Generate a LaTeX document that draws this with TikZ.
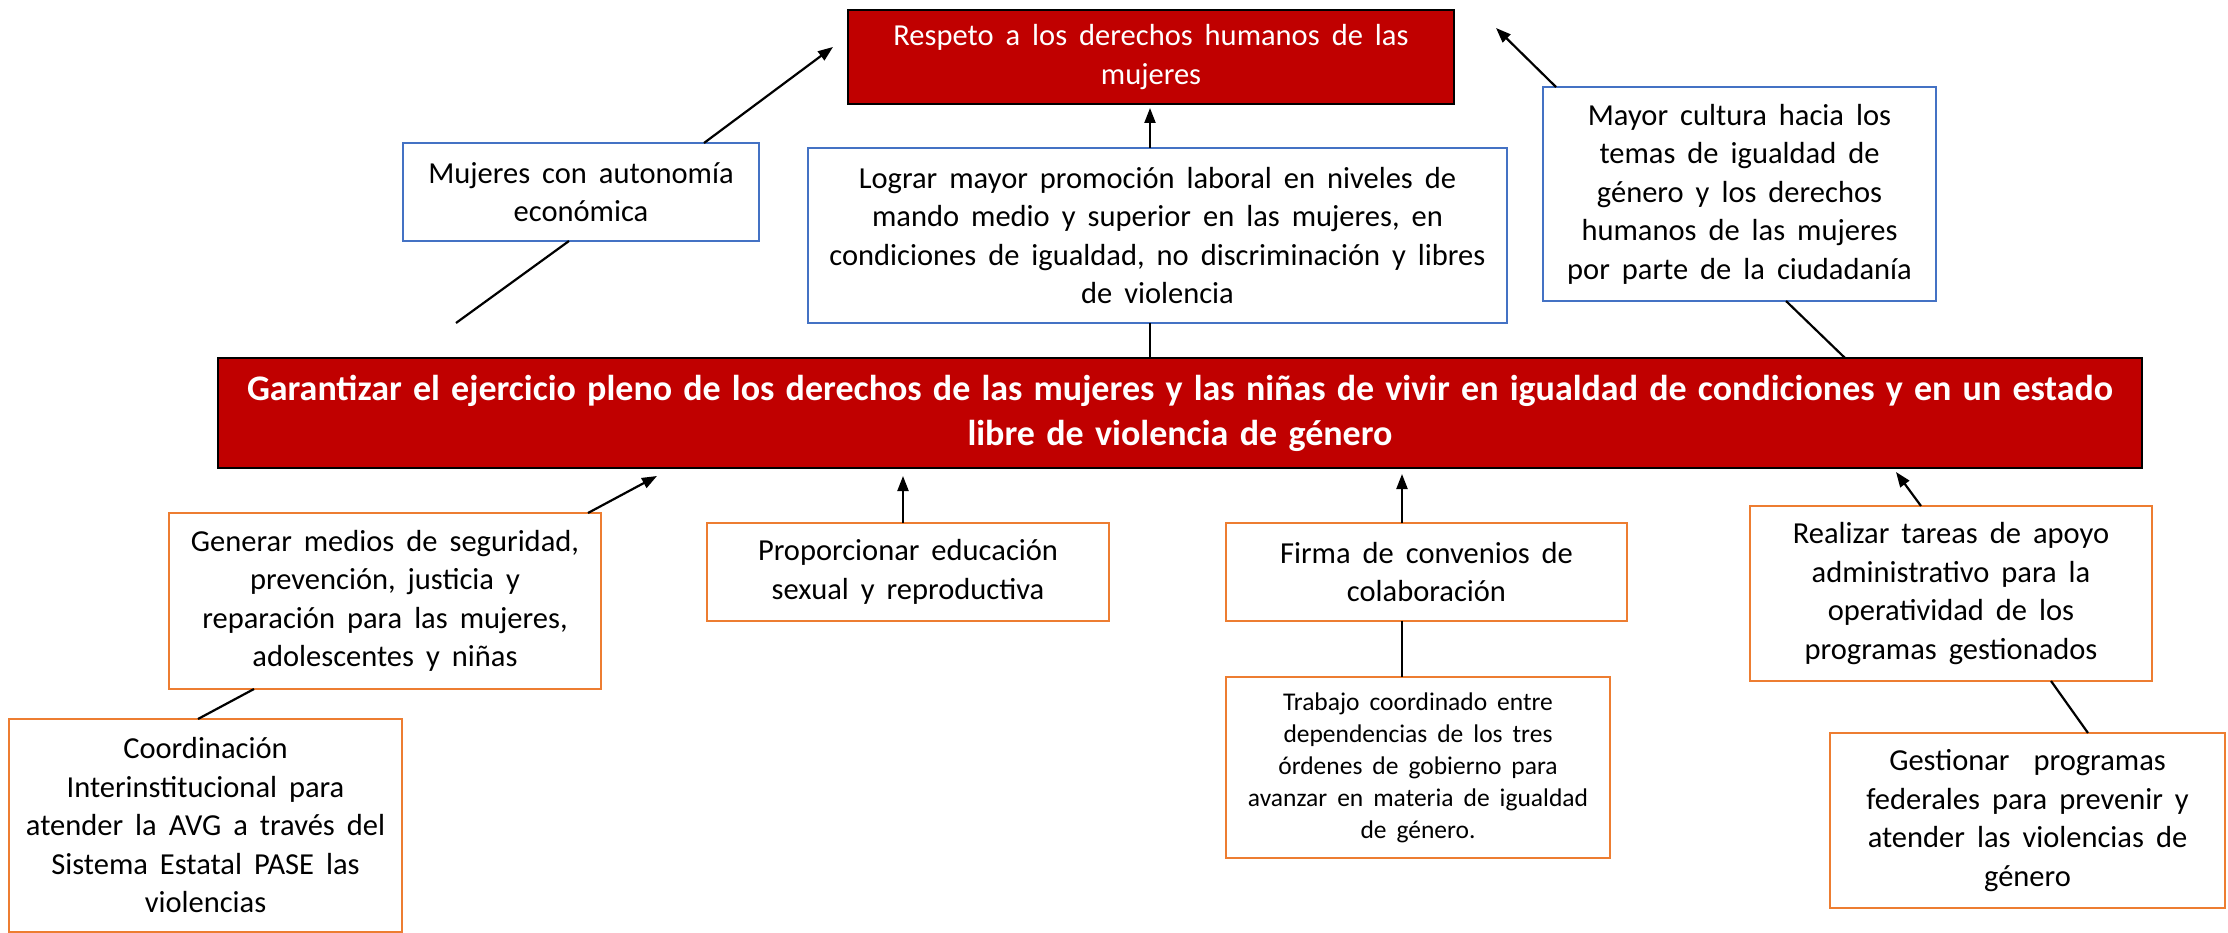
\documentclass[tikz,border=0pt]{standalone}
\usepackage{fontspec}
\setmainfont{Carlito}
\usetikzlibrary{arrows.meta}
\definecolor{darkred}{HTML}{C00000}
\definecolor{bluebd}{HTML}{4472C4}
\definecolor{orangebd}{HTML}{ED7D31}
\newcommand{\wideA}{\fontsize{30.5}{38.5}\selectfont\spaceskip=12pt plus 3pt minus 1pt\relax}
\newcommand{\wideB}{\fontsize{25.5}{32}\selectfont\spaceskip=10pt plus 2pt minus 1pt\relax}
\tikzset{
  box/.style={align=center, inner sep=0pt, outer sep=0pt, font=\wideA},
  redbox/.style={box, fill=darkred, draw=black, line width=2pt, text=white},
  bluebox/.style={box, fill=white, draw=bluebd, line width=2.5pt},
  orangebox/.style={box, fill=white, draw=orangebd, line width=2.5pt},
  arr/.style={line width=2.2pt, -{Triangle[length=15pt,width=11pt]}},
  conn/.style={line width=2.2pt},
}
\begin{document}
\begin{tikzpicture}[x=1pt,y=-1pt]
\useasboundingbox (0,0) rectangle (2228,933);
% nodes
\node[redbox, minimum width=606pt, minimum height=94pt] (resp) at (1151,57)
  {Respeto a los derechos humanos de las\\mujeres};
\node[bluebox, minimum width=356pt, minimum height=98pt] (muj) at (581,192)
  {Mujeres con autonomía\\económica};
\node[bluebox, minimum width=699pt, minimum height=175pt] (lograr) at (1157.5,235.5)
  {Lograr mayor promoción laboral en niveles de\\mando medio y superior en las mujeres, en\\condiciones de igualdad, no discriminación y libres\\de violencia};
\node[bluebox, minimum width=393pt, minimum height=214pt] (mayor) at (1739.5,194)
  {Mayor cultura hacia los\\temas de igualdad de\\género y los derechos\\humanos de las mujeres\\por parte de la ciudadanía};
\node[redbox, minimum width=1924pt, minimum height=110pt, font=\fontsize{36}{45}\selectfont\bfseries] (main) at (1180,413)
  {\makebox[1866pt][s]{Garantizar el ejercicio pleno de los derechos de las mujeres y las niñas de vivir en igualdad de condiciones y en un estado}\\\makebox[425pt][s]{libre de violencia de género}};
\node[orangebox, minimum width=432pt, minimum height=176pt] (gen) at (385,601)
  {Generar medios de seguridad,\\prevención, justicia y\\reparación para las mujeres,\\adolescentes y niñas};
\node[orangebox, minimum width=393pt, minimum height=213pt] (coord) at (205.5,825.5)
  {Coordinación\\Interinstitucional para\\atender la AVG a través del\\Sistema Estatal PASE las\\violencias};
\node[orangebox, minimum width=402pt, minimum height=98pt] (prop) at (908,572)
  {Proporcionar educación\\sexual y reproductiva};
\node[orangebox, minimum width=401pt, minimum height=98pt] (firma) at (1426.5,572)
  {Firma de convenios de\\colaboración};
\node[orangebox, minimum width=384pt, minimum height=181pt, font=\wideB] (trab) at (1418,767.5)
  {Trabajo coordinado entre\\dependencias de los tres\\órdenes de gobierno para\\avanzar en materia de igualdad\\de género.};
\node[orangebox, minimum width=402pt, minimum height=175pt] (real) at (1951,593.5)
  {Realizar tareas de apoyo\\administrativo para la\\operatividad de los\\programas gestionados};
\node[orangebox, minimum width=395pt, minimum height=175pt] (gest) at (2027.5,820.5)
  {Gestionar\ \ programas\\federales para prevenir y\\atender las violencias de\\género};
% helper coordinates
\coordinate (tmuj) at (833,47);
\coordinate (xmujtop) at (704,0);
\coordinate (fmuj) at (456,323);
\coordinate (xmujbot) at (569,0);
\coordinate (xlog) at (1150,0);
\coordinate (tlog) at (1150,108);
\coordinate (tmay) at (1496,28);
\coordinate (xmaytop) at (1556,0);
\coordinate (xmaybot) at (1786,0);
\coordinate (xmainm) at (1845,0);
\coordinate (tgen) at (657,476);
\coordinate (xgentop) at (588,0);
\coordinate (xgenbot) at (254,0);
\coordinate (xcoord) at (198,0);
\coordinate (tprop) at (903,476);
\coordinate (tfirma) at (1402,474);
\coordinate (treal) at (1896,472);
\coordinate (xrealtop) at (1921,0);
\coordinate (xrealbot) at (2051,0);
\coordinate (xgest) at (2088,0);
% connectors
\draw[arr] (muj.north -| xmujtop) -- (tmuj);
\draw[conn] (muj.south -| xmujbot) -- (fmuj);
\draw[arr] (lograr.north -| xlog) -- (tlog);
\draw[conn] (lograr.south -| xlog) -- (main.north -| xlog);
\draw[arr] (mayor.north -| xmaytop) -- (tmay);
\draw[conn] (mayor.south -| xmaybot) -- (main.north -| xmainm);
\draw[arr] (gen.north -| xgentop) -- (tgen);
\draw[conn] (gen.south -| xgenbot) -- (coord.north -| xcoord);
\draw[arr] (prop.north -| tprop) -- (tprop);
\draw[arr] (firma.north -| tfirma) -- (tfirma);
\draw[conn] (firma.south -| tfirma) -- (trab.north -| tfirma);
\draw[arr] (real.north -| xrealtop) -- (treal);
\draw[conn] (real.south -| xrealbot) -- (gest.north -| xgest);
\end{tikzpicture}
\end{document}
